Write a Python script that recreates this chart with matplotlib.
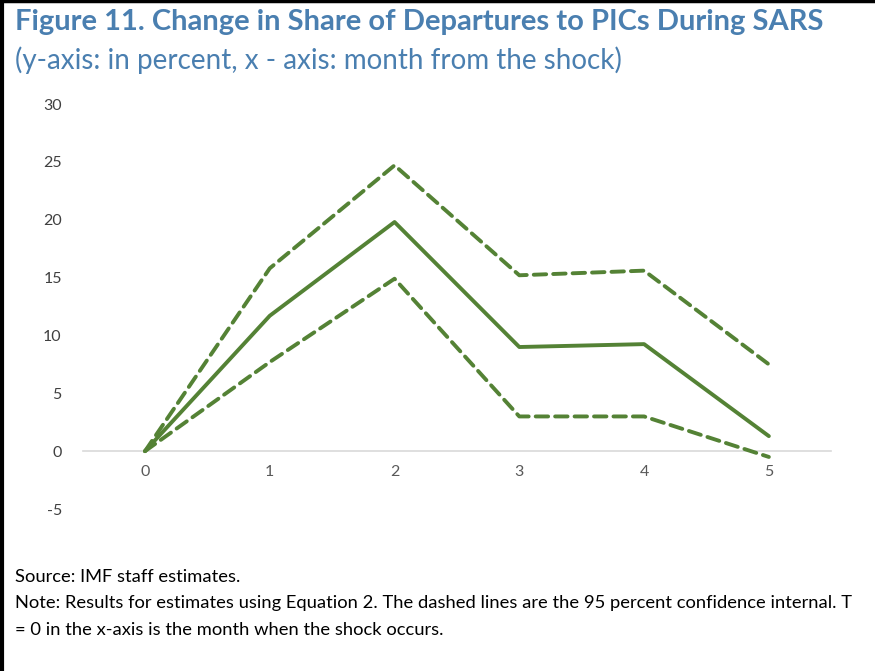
import numpy as np
import matplotlib.pyplot as plt
from matplotlib.lines import Line2D

plt.rcParams['font.family'] = ['Lato', 'DejaVu Sans']

# data
months = [0, 1, 2, 3, 4, 5]
estimate = [0, 11.7, 19.8, 9.0, 9.25, 1.3]
upper = [0, 15.8, 24.7, 15.2, 15.6, 7.5]
lower = [0, 7.7, 14.9, 3.0, 3.0, -0.5]
yticks = [-5, 0, 5, 10, 15, 20, 25, 30]

green = '#548235'
blue = '#4a7fb0'

fig = plt.figure(figsize=(8.75, 6.71), dpi=100)
ax = fig.add_axes([0.0944, 0.2414, 0.8556, 0.6036])

ax.plot(months, estimate, color=green, lw=2.8, solid_capstyle='round')
for band in (upper, lower):
    ax.plot(months, band, color=green, lw=2.8, dashes=(3.2, 1.8),
            dash_capstyle='round')

ax.set_xlim(-0.5, 5.5)
ax.set_ylim(-5, 30)
ax.set_yticks(yticks)
ax.set_yticklabels([str(v) for v in yticks])
ax.set_xticks(months)

for s in ('top', 'right', 'left'):
    ax.spines[s].set_visible(False)
ax.spines['bottom'].set_position(('data', 0))
ax.spines['bottom'].set_color('#d9d9d9')
ax.spines['bottom'].set_linewidth(1.2)
ax.spines['bottom'].set_zorder(0)
ax.tick_params(axis='y', length=0, pad=15, labelsize=11.5, labelcolor='#404040')
ax.tick_params(axis='x', length=0, pad=10, labelsize=11.5, labelcolor='#595959')

fig.text(0.017, 0.967, 'Figure 11. Change in Share of Departures to PICs During SARS',
         fontsize=21, fontweight='bold', color=blue, va='center')
fig.text(0.017, 0.91, '(y-axis: in percent, x - axis: month from the shock)',
         fontsize=20, color=blue, va='center')

fig.text(0.017, 0.14, 'Source: IMF staff estimates.', fontsize=13.2, va='center')
fig.text(0.017, 0.101, 'Note: Results for estimates using Equation 2. The dashed lines are the 95 percent '
         'confidence internal. T', fontsize=13.2, va='center')
fig.text(0.017, 0.061, '= 0 in the x-axis is the month when the shock occurs.',
         fontsize=13.2, va='center')

# frame edges
fig.add_artist(Line2D([0, 1], [0.998, 0.998], color='black', lw=2.5,
                      transform=fig.transFigure))
fig.add_artist(Line2D([0.002, 0.002], [0, 1], color='black', lw=3,
                      transform=fig.transFigure))

fig.savefig('out.png', dpi=100)
